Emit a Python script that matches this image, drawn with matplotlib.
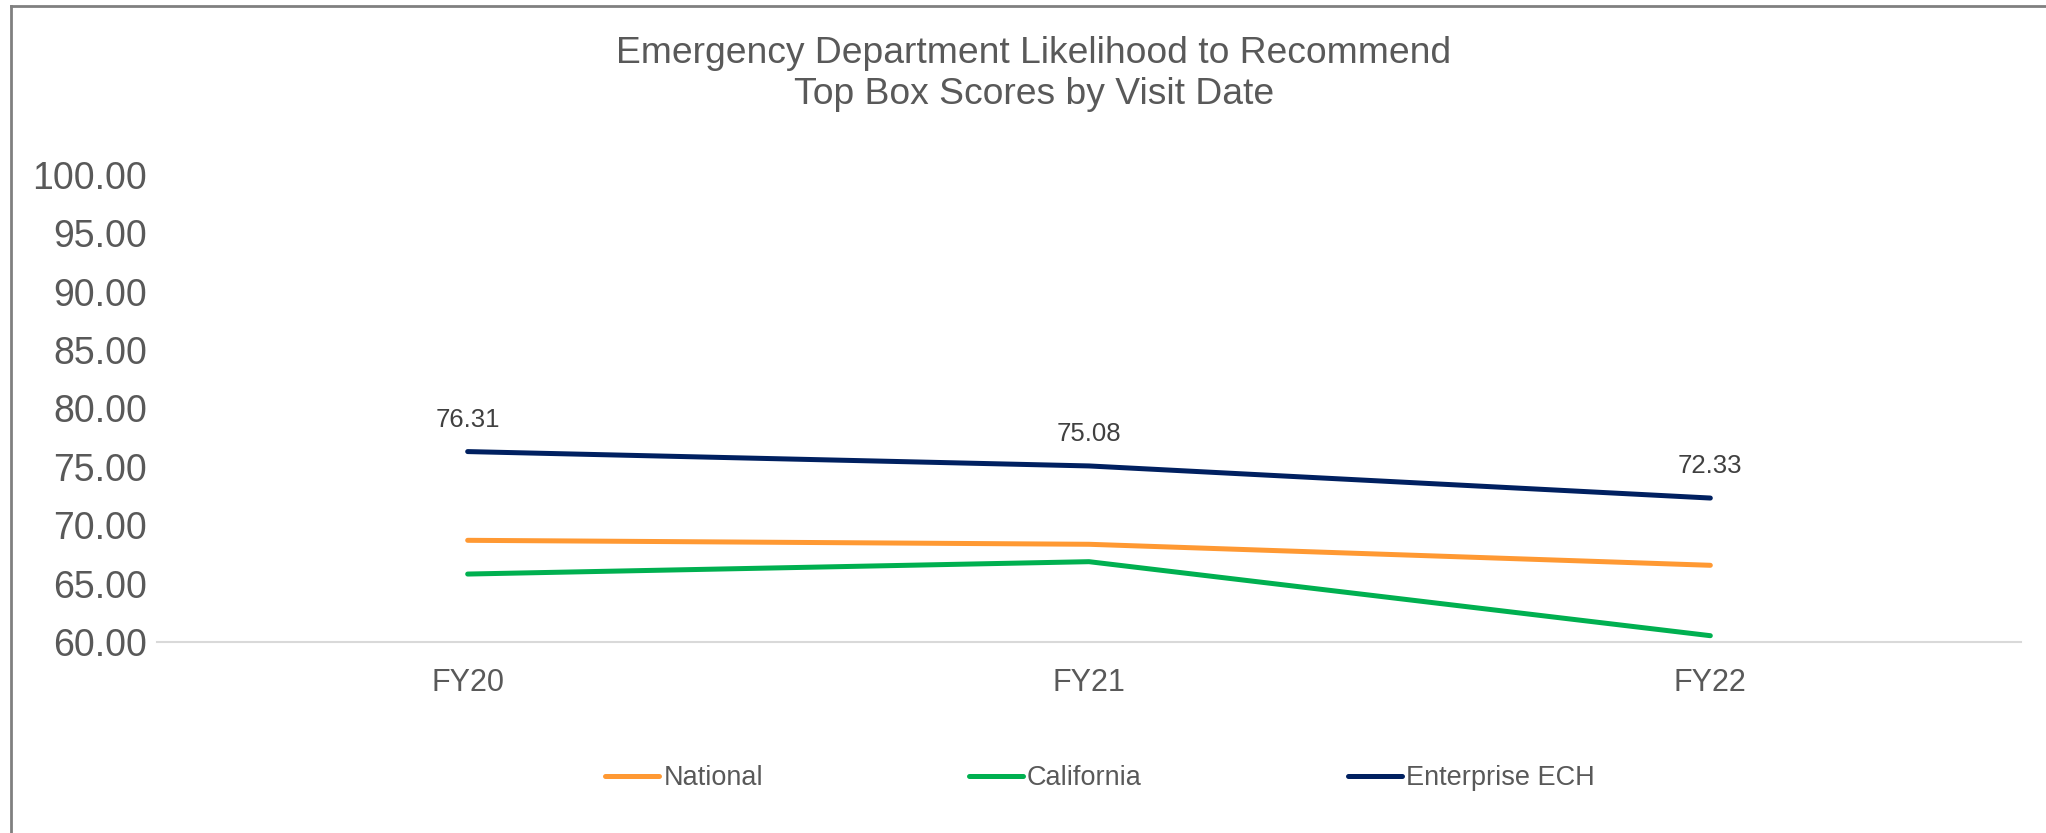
import matplotlib
matplotlib.use("Agg")
import matplotlib.pyplot as plt
from matplotlib.lines import Line2D

plt.rcParams['font.family'] = ['Liberation Sans', 'DejaVu Sans']

# data
years = ["FY20", "FY21", "FY22"]
national = [68.71, 68.37, 66.57]
california = [65.82, 66.88, 60.54]
enterprise = [76.31, 75.08, 72.33]

series = [
    ("National", national, "#FF9933"),
    ("California", california, "#00B050"),
    ("Enterprise ECH", enterprise, "#002060"),
]

W, H = 2046, 833
fig = plt.figure(figsize=(W / 100, H / 100), dpi=100)
ax = fig.add_axes([157 / W, 1 - 642 / H, (2021 - 157) / W, (642 - 175) / H])

x = list(range(len(years)))
for name, vals, col in series:
    ax.plot(x, vals, color=col, lw=3.6, solid_capstyle='round', label=name)

for xi, v in zip(x, enterprise):
    ax.annotate(f"{v:.2f}", (xi, v), xytext=(0, 23), textcoords='offset points',
                ha='center', va='center', fontsize=18.5, color='#404040')

ax.set_xlim(-0.5, 2.5)
ax.set_ylim(60, 100)
ax.set_yticks(range(60, 101, 5))
ax.set_yticklabels([f"{t:.2f}" for t in range(60, 101, 5)])
ax.set_xticks(x)
ax.set_xticklabels(years)
ax.tick_params(axis='y', length=0, pad=7, labelsize=27, labelcolor='#595959')
ax.tick_params(axis='x', length=0, pad=19, labelsize=22, labelcolor='#595959')
for s in ['top', 'right', 'left']:
    ax.spines[s].set_visible(False)
ax.spines['bottom'].set_color('#D9D9D9')
ax.spines['bottom'].set_linewidth(1.5)

fig.text(1034 / W, 1 - 74 / H,
         "Emergency Department Likelihood to Recommend\nTop Box Scores by Visit Date",
         ha='center', va='center', fontsize=26.8, color='#595959', linespacing=1.2)

handles = [Line2D([], [], color=c, lw=3.6, solid_capstyle='round') for _, _, c in series]
fig.legend(handles, [n for n, _, _ in series], loc='center',
           bbox_to_anchor=(1100 / W, 1 - 778 / H), ncol=3, frameon=False,
           fontsize=19.5, labelcolor='#595959', handlelength=2.0,
           handletextpad=0.15, columnspacing=7.6)

# frame edges visible in the reference (top and left)
fig.add_artist(Line2D([11 / W, 11 / W], [0, 1 - 6 / H], color='#808080', lw=2))
fig.add_artist(Line2D([11 / W, 1], [1 - 6 / H, 1 - 6 / H], color='#808080', lw=2))

fig.savefig("out.png", dpi=100)
